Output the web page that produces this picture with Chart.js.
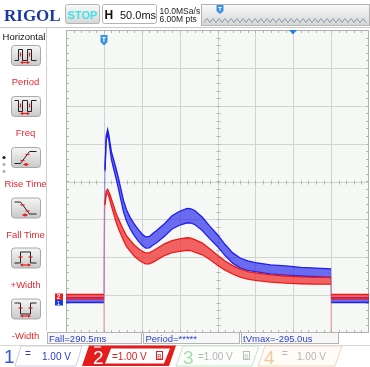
<!DOCTYPE html>
<html><head><meta charset="utf-8">
<script src="https://cdn.jsdelivr.net/npm/chart.js@4/dist/chart.umd.min.js"></script>
<style>
html,body{margin:0;padding:0;background:#fff;width:370px;height:367px;overflow:hidden;font-family:"Liberation Sans",Arial,sans-serif;}
#plot{position:absolute;left:66px;top:30px;}
#deco{position:absolute;left:0;top:0;}
</style></head>
<body>
<canvas id="plot" width="303" height="303"></canvas>
<svg id="deco" width="370" height="367" xmlns="http://www.w3.org/2000/svg" font-family="Liberation Sans, Arial, sans-serif">
<defs>
<linearGradient id="btn" x1="0" y1="0" x2="0" y2="1"><stop offset="0" stop-color="#f6f6f6"/><stop offset="1" stop-color="#c9c9c9"/></linearGradient>
<linearGradient id="mem" x1="0" y1="0" x2="0" y2="1"><stop offset="0" stop-color="#fafafa"/><stop offset="1" stop-color="#d6d6d6"/></linearGradient>
</defs>
<!-- top bar -->
<line x1="0" y1="27.5" x2="370" y2="27.5" stroke="#c8c8c8"/>
<text x="4" y="21" font-family="Liberation Serif, serif" font-weight="bold" font-size="17" fill="#1b3aa8">RIGOL</text>
<rect x="65.5" y="4.5" width="34" height="19" rx="2" fill="url(#mem)" stroke="#b4b4b4"/>
<text x="82.5" y="18.5" text-anchor="middle" font-weight="bold" font-size="11" fill="#3fe2e6">STOP</text>
<rect x="102.5" y="4.5" width="54" height="19" rx="2" fill="#fff" stroke="#b4b4b4"/>
<text x="104.5" y="19" font-weight="bold" font-size="12" fill="#111">H</text>
<text x="120" y="19" font-size="11" fill="#111">50.0ms</text>
<text x="159.5" y="13.5" font-size="8.5" fill="#222">10.0MSa/s</text>
<text x="159.5" y="21.5" font-size="8.5" fill="#222">6.00M pts</text>
<rect x="201.5" y="4.5" width="168" height="21" fill="url(#mem)" stroke="#b4b4b4"/>
<polyline id="zig" fill="none" stroke="#8a98a8" stroke-width="1"/>
<polygon points="216.5,5 223.5,5 223.5,11 220,14 216.5,11" fill="#3a90e0"/>
<text x="220" y="11" text-anchor="middle" font-size="6" font-weight="bold" fill="#fff">T</text>
<!-- left menu -->
<line x1="46.5" y1="28" x2="46.5" y2="331" stroke="#d0d0d0"/>
<text x="24" y="39.5" text-anchor="middle" font-size="9.5" fill="#111">Horizontal</text>
<g id="btns"></g>
<circle cx="4" cy="157.5" r="1.6" fill="#222"/>
<circle cx="4" cy="164.5" r="1.4" fill="#aaa"/>
<circle cx="4" cy="171.5" r="1.4" fill="#aaa"/>
<!-- plot markers -->
<polygon points="100.5,35 107.5,35 107.5,42 104,45.5 100.5,42" fill="#3a90e0"/>
<text x="104" y="41.8" text-anchor="middle" font-size="7" font-weight="bold" fill="#fff">T</text>
<polygon points="289,30 297,30 293,34.5" fill="#2a80e0"/>
<rect x="55" y="299.5" width="8" height="6" fill="#1a3ae0"/>
<text x="58.5" y="305" text-anchor="middle" font-size="5.5" fill="#fff">1</text>
<rect x="55" y="293.5" width="8" height="6.5" fill="#e82020"/>
<text x="58.5" y="299.3" text-anchor="middle" font-size="6.5" font-weight="bold" fill="#fff">2</text>
<!-- measurement boxes -->
<rect x="47.5" y="332.5" width="94" height="11" fill="#f7f7f7" stroke="#b4b4b4"/>
<rect x="143.5" y="332.5" width="96" height="11" fill="#f7f7f7" stroke="#b4b4b4"/>
<rect x="241.5" y="332.5" width="97" height="11" fill="#f7f7f7" stroke="#b4b4b4"/>
<text x="49" y="341.5" font-size="9.5" fill="#2b3fd0">Fall=290.5ms</text>
<text x="145.5" y="341.5" font-size="9.5" fill="#2b3fd0">Period=*****</text>
<text x="243" y="341.5" font-size="9.5" fill="#2b3fd0">tVmax=-295.0us</text>
<!-- channel bar -->
<line x1="0" y1="345.5" x2="370" y2="345.5" stroke="#d8d8d8"/>
<text x="4" y="363" font-size="19" fill="#3556e0">1</text>
<polygon points="21,346 82,346 76,366 15,366" fill="#fff" stroke="#cdd0e0"/>
<text x="25" y="357" font-size="10" fill="#2a3acc">=</text>
<text x="42" y="359.5" font-size="10" fill="#2a3acc">1.00 V</text>
<polygon points="89,345.5 176,345.5 169,366 82,366" fill="#e51c1c"/>
<polygon points="111,348.5 170,348.5 164,363.5 105,363.5" fill="#fff"/>
<line x1="94" y1="347" x2="101" y2="347" stroke="#fff" stroke-width="1.2"/>
<text x="93" y="364" font-size="19" fill="#fff">2</text>
<text x="112" y="359.5" font-size="10" fill="#e51c1c">=1.00 V</text>
<rect x="156.5" y="351.5" width="6" height="8" fill="none" stroke="#e51c1c"/>
<text x="159.5" y="358.5" text-anchor="middle" font-size="6.5" fill="#e51c1c">B</text>
<polygon points="183,346 259,346 252,366 176,366" fill="#fbfefb" stroke="#c4e4c4"/>
<text x="183" y="364" font-size="19" fill="#a8dca8">3</text>
<text x="198" y="359.5" font-size="10" fill="#b4b4b4">=1.00 V</text>
<rect x="243.5" y="351.5" width="6" height="8" fill="none" stroke="#bdbdbd"/>
<text x="246.5" y="358.5" text-anchor="middle" font-size="6.5" fill="#bdbdbd">B</text>
<polygon points="265,346 342,346 335,366 258,366" fill="#fffbf6" stroke="#f2d6b8"/>
<text x="264" y="364" font-size="19" fill="#f2c89c">4</text>
<text x="282" y="357" font-size="10" fill="#b4b4b4">=</text>
<text x="297" y="359.5" font-size="10" fill="#b4b4b4">1.00 V</text>
</svg>
<script>
// ---- data (time in ms, voltage in V, 1 V/div) ----
const timeMs   = [-50, 0, 0, 0.6, 1.5, 3, 5, 6.5, 8, 10, 13, 16, 19, 22, 26, 30, 35, 40, 45, 50, 55, 60, 65, 70, 80, 90, 100, 110, 115, 120, 130, 140, 150, 160, 170, 180, 190, 200, 220, 240, 260, 280, 300, 300, 300, 350];
const ch1Volts = [-3.13, -3.13, -3.13, -1.0, 0.3, 1.15, 1.31, 1.17, 0.95, 0.68, 0.45, 0.22, -0.03, -0.30, -0.66, -0.90, -1.11, -1.27, -1.41, -1.53, -1.61, -1.60, -1.52, -1.45, -1.28, -1.08, -0.97, -0.90, -0.91, -0.95, -1.12, -1.35, -1.56, -1.81, -2.02, -2.15, -2.22, -2.26, -2.32, -2.35, -2.38, -2.40, -2.42, -3.13, -3.13, -3.13];
const ch1Noise = [0.13, 0.13, 0.13, 0.05, 0.06, 0.10, 0.13, 0.14, 0.17, 0.20, 0.24, 0.26, 0.28, 0.29, 0.30, 0.30, 0.30, 0.30, 0.30, 0.30, 0.30, 0.30, 0.31, 0.32, 0.33, 0.35, 0.37, 0.38, 0.38, 0.37, 0.35, 0.33, 0.31, 0.29, 0.27, 0.26, 0.25, 0.24, 0.24, 0.24, 0.23, 0.23, 0.23, 0.13, 0.13, 0.13];
const ch2Volts = [-3.04, -3.04, -4.0, -1.6, -0.6, -0.30, -0.26, -0.33, -0.42, -0.56, -0.75, -0.95, -1.10, -1.24, -1.42, -1.58, -1.70, -1.82, -1.91, -1.98, -2.03, -2.03, -1.98, -1.92, -1.80, -1.72, -1.68, -1.65, -1.66, -1.70, -1.78, -1.92, -2.08, -2.22, -2.33, -2.42, -2.48, -2.51, -2.56, -2.59, -2.61, -2.62, -2.62, -4.0, -3.04, -3.04];
const ch2Noise = [0.12, 0.12, 0.0, 0.02, 0.05, 0.08, 0.11, 0.12, 0.15, 0.18, 0.21, 0.23, 0.25, 0.26, 0.27, 0.28, 0.29, 0.29, 0.29, 0.29, 0.29, 0.29, 0.30, 0.30, 0.31, 0.32, 0.33, 0.33, 0.33, 0.33, 0.31, 0.28, 0.26, 0.24, 0.22, 0.21, 0.20, 0.20, 0.19, 0.19, 0.18, 0.18, 0.18, 0.0, 0.12, 0.12];
// screen grid: 50 ms/div horizontally, 1 V/div vertically
const xGridMs  = [-50, 0, 50, 100, 150, 200, 250, 300, 350];
const yGridV   = [-4, -3, -2, -1, 0, 1, 2, 3, 4];

// ---- decorations: menu buttons and memory bar zigzag ----
(function(){
  const zig = []; for (let x = 204; x <= 367; x += 3) zig.push(x + ',' + (((x - 204) / 3) % 2 ? 18.5 : 22.5));
  document.getElementById('zig').setAttribute('points', zig.join(' '));
  const items = [
    ['Period', 45.5, 'M3 15H7V4H11V15H16V4H20V15H25', [[9,7,9,11],[18,7,18,11]], [9,17,18]],
    ['Freq', 96.5, 'M3 4H7V15H11V4H16V15H20V4H25', [[9,7,9,11],[18,7,18,11]], [9,17,18]],
    ['Rise Time', 147.5, 'M3 16H9L18 4H25', [[9,13,13,13],[14,7,18,7]], [12,17,17]],
    ['Fall Time', 198, 'M3 4H9L18 16H25', [[9,7,13,7],[14,13,18,13]], [11,17,16]],
    ['+Width', 248, 'M3 15H9V4H19V15H25', [[7,9,11,9],[17,9,21,9]], [9,17,19]],
    ['-Width', 299, 'M3 4H9V15H19V4H25', [[7,9,11,9],[17,9,21,9]], [9,17,19]]
  ];
  const g = document.getElementById('btns');
  let html = '';
  items.forEach(([label, top, path, marks, arr]) => {
    html += `<g transform="translate(11.5,${top})">` +
      `<rect x="0" y="0" width="29" height="20" rx="3" fill="url(#btn)" stroke="#a8a8a8"/>` +
      `<path d="${path}" fill="none" stroke="#222" stroke-width="1"/>` +
      marks.map(m => `<line x1="${m[0]}" y1="${m[1]}" x2="${m[2]}" y2="${m[3]}" stroke="#e82020" stroke-width="1.2"/>`).join('') +
      `<line x1="${arr[0]}" y1="${arr[1]}" x2="${arr[2]}" y2="${arr[1]}" stroke="#e82020" stroke-width="1.2"/>` +
      `<polygon points="${arr[0]},${arr[1]} ${arr[0]+2.5},${arr[1]-1.8} ${arr[0]+2.5},${arr[1]+1.8}" fill="#e82020"/>` +
      `<polygon points="${arr[2]},${arr[1]} ${arr[2]-2.5},${arr[1]-1.8} ${arr[2]-2.5},${arr[1]+1.8}" fill="#e82020"/>` +
      `</g><text x="25.5" y="${top + 39.5}" text-anchor="middle" font-size="9.5" fill="#e8262e">${label}</text>`;
  });
  g.innerHTML = html;
})();

// ---- chart ----
const band = (v, n, s) => timeMs.map((t, i) => ({x: t, y: v[i] + s * n[i] / 2}));
// near-vertical edges are drawn faintly, as the scope does for fast transitions
const edgeColor = (solid, faint) => ({
  borderColor: c => Math.abs(c.p1.parsed.x - c.p0.parsed.x) < 1 ? faint : solid
});

const scopeGrid = {
  id: 'scopeGrid',
  beforeDraw(chart) {
    const {ctx, chartArea: a} = chart;
    ctx.save(); ctx.fillStyle = '#f5f8f5'; ctx.fillRect(a.left, a.top, a.right - a.left, a.bottom - a.top); ctx.restore();
  },
  beforeDatasetsDraw(chart) {
    const {ctx, chartArea: a, scales: {x, y}} = chart;
    const cl = v => Math.min(Math.max(v, a.left + 0.5), a.right - 0.5);
    const ct = v => Math.min(Math.max(v, a.top + 0.5), a.bottom - 0.5);
    ctx.save();
    ctx.strokeStyle = '#d2d4d2'; ctx.lineWidth = 1;
    ctx.beginPath();
    xGridMs.forEach(t => { const px = cl(Math.round(x.getPixelForValue(t)) + 0.5); ctx.moveTo(px, a.top); ctx.lineTo(px, a.bottom); });
    yGridV.forEach(v => { const py = ct(Math.round(y.getPixelForValue(v)) + 0.5); ctx.moveTo(a.left, py); ctx.lineTo(a.right, py); });
    ctx.stroke();
    ctx.strokeStyle = '#b4b6b4';
    ctx.beginPath();
    const cx = Math.round(x.getPixelForValue(150)) + 0.5, cy = Math.round(y.getPixelForValue(0)) + 0.5;
    for (let t = -50; t <= 350; t += 10) {
      const px = Math.round(x.getPixelForValue(t)) + 0.5;
      ctx.moveTo(px, cy - 2); ctx.lineTo(px, cy + 2);
      ctx.moveTo(px, a.top); ctx.lineTo(px, a.top + 3);
      ctx.moveTo(px, a.bottom); ctx.lineTo(px, a.bottom - 3);
    }
    for (let v = -4; v <= 4.001; v += 0.2) {
      const py = Math.round(y.getPixelForValue(v)) + 0.5;
      ctx.moveTo(cx - 2, py); ctx.lineTo(cx + 2, py);
      ctx.moveTo(a.left, py); ctx.lineTo(a.left + 3, py);
      ctx.moveTo(a.right, py); ctx.lineTo(a.right - 3, py);
    }
    ctx.stroke();
    ctx.strokeStyle = '#b0b2b0';
    ctx.strokeRect(a.left + 0.5, a.top + 0.5, a.right - a.left - 1, a.bottom - a.top - 1);
    ctx.restore();
  }
};

const RED = 'rgb(236,24,24)', RED_FAINT = 'rgba(240,80,80,0.2)';
const BLUE = 'rgb(30,30,236)', BLUE_FAINT = 'rgba(80,80,240,0.25)';
new Chart(document.getElementById('plot'), {
  type: 'line',
  data: {
    datasets: [
      {data: band(ch2Volts, ch2Noise, 1), borderColor: RED, borderWidth: 1.3, backgroundColor: 'rgba(240,36,36,0.7)', fill: '+1', segment: edgeColor(RED, RED_FAINT)},
      {data: band(ch2Volts, ch2Noise, -1), borderColor: RED, borderWidth: 1.3, fill: false, segment: edgeColor(RED, RED_FAINT)},
      {data: band(ch1Volts, ch1Noise, 1), borderColor: BLUE, borderWidth: 1.3, backgroundColor: 'rgba(40,40,236,0.68)', fill: '+1', segment: edgeColor(BLUE, BLUE_FAINT)},
      {data: band(ch1Volts, ch1Noise, -1), borderColor: BLUE, borderWidth: 1.3, fill: false, segment: edgeColor(BLUE, BLUE_FAINT)}
    ]
  },
  options: {
    responsive: false, animation: false, devicePixelRatio: 1,
    layout: {padding: 0},
    elements: {point: {radius: 0}, line: {tension: 0}},
    plugins: {legend: {display: false}, tooltip: {enabled: false}},
    scales: {
      x: {type: 'linear', min: -50, max: 350, display: false},
      y: {type: 'linear', min: -4, max: 4, display: false}
    }
  },
  plugins: [scopeGrid]
});
</script>
</body></html>
